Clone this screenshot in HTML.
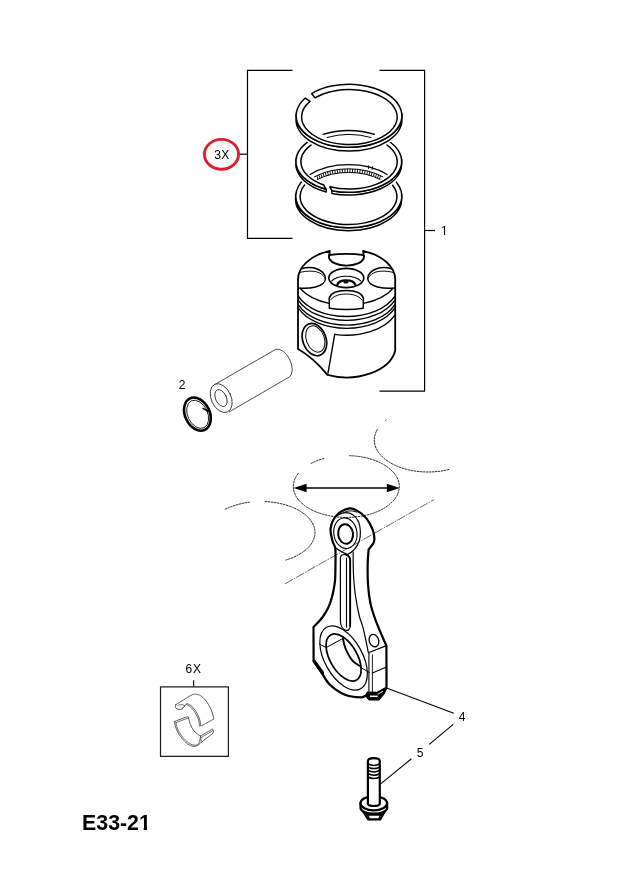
<!DOCTYPE html>
<html><head><meta charset="utf-8"><title>E33-21</title>
<style>
html,body{margin:0;padding:0;background:#fff;}
body{width:632px;height:889px;overflow:hidden;font-family:"Liberation Sans",sans-serif;}
svg{display:block;will-change:transform;transform:translateZ(0);}
text{font-family:"Liberation Sans",sans-serif;fill:#000;}
</style></head><body>
<svg width="632" height="889" viewBox="0 0 632 889" stroke-linecap="round" stroke-linejoin="round">
<rect width="632" height="889" fill="#fff"/>
<g id="brackets">
<path d="M292.5 70.4 H247.5 V238.4 H292.5" fill="none" stroke="#000" stroke-width="1.2" stroke-linecap="butt" stroke-linejoin="miter"/>
<path d="M379.5 70.4 H424.6 V391.2 H379.5" fill="none" stroke="#000" stroke-width="1.2" stroke-linecap="butt" stroke-linejoin="miter"/>
<path d="M240 154.2 H247.5" fill="none" stroke="#000" stroke-width="1.2" stroke-linecap="butt"/>
<path d="M424.6 230.5 H435" fill="none" stroke="#000" stroke-width="1.2" stroke-linecap="butt"/>
</g>
<ellipse cx="221.5" cy="154.3" rx="17.1" ry="14.9" fill="none" stroke="#de1f2b" stroke-width="2.9"/>
<text x="221.9" y="159.1" font-size="12" text-anchor="middle" letter-spacing="0.3">3X</text>
<text x="444.3" y="235.2" font-size="12" text-anchor="middle">1</text>
<text x="182.2" y="388.8" font-size="12" text-anchor="middle">2</text>
<text x="193.6" y="673.0" font-size="12" text-anchor="middle" letter-spacing="0.7">6X</text>
<text x="462.2" y="720.9" font-size="12" text-anchor="middle">4</text>
<text x="420" y="756.8" font-size="12" text-anchor="middle">5</text>
<text x="82.1" y="829.7" font-size="21.3" font-weight="bold">E33-21</text>
<path d="M440.4 233.7 H443.95 V235.6 H440.4 Z M445.15 233.7 H448 V235.6 H445.15 Z" fill="#fff" stroke="none"/>
<path d="M139.2 826.6 H143.7 V830.6 H139.2 Z M147.05 826.6 H151.5 V830.6 H147.05 Z" fill="#fff" stroke="none"/>
<g id="ring3">
<path d="M401.47 194.00 A53.00 31.60 0.0 1 1 295.73 194.00 L295.73 196.90 L295.73 196.90 A53.00 31.60 0.0 1 0 401.47 196.90 Z" fill="#fff" stroke="#000" stroke-width="1.5" />
<path d="M331.34 166.32 A53.00 31.60 0.0 1 1 329.61 166.70 L331.35 170.55 A48.40 27.90 0.0 1 0 332.94 170.22 Z" fill="#fff" stroke="#000" stroke-width="1.5" />
</g>
<path d="M401.70 161.40 A52.90 30.90 0.0 0 1 295.90 161.40 L295.90 161.40 A52.90 30.90 0.0 0 1 401.70 161.40 Z M401.70 164.10 A52.90 30.90 0.0 0 1 295.90 164.10 L295.90 164.10 A52.90 30.90 0.0 0 1 401.70 164.10 Z " fill="#fff" stroke="#fff" stroke-width="5"/>
<g id="ring3inner">
<path d="M310.09 174.49 A53.00 31.60 0.0 0 1 387.11 174.49" fill="none" stroke="#000" stroke-width="1.3" />
<path d="M314.48 176.87 A48.40 27.90 0.0 0 1 382.92 176.87" fill="none" stroke="#000" stroke-width="1.0" />
<path d="M317.32 179.47 A46.90 27.90 0.0 0 1 380.08 179.47" fill="none" stroke="#000" stroke-width="1.0" />
<path d="M316.95 176.14 L317.93 178.84 M318.93 175.20 L319.85 177.90 M320.99 174.32 L321.85 177.02 M323.13 173.51 L323.92 176.21 M325.34 172.76 L326.07 175.46 M327.62 172.08 L328.28 174.78 M329.96 171.48 L330.54 174.18 M332.35 170.94 L332.86 173.64 M334.79 170.48 L335.22 173.18 M337.26 170.09 L337.62 172.79 M339.77 169.78 L340.05 172.48 M342.30 169.54 L342.50 172.24 M344.86 169.39 L344.97 172.09 M347.42 169.31 L347.46 172.01 M349.98 169.31 L349.94 172.01 M352.54 169.39 L352.43 172.09 M355.10 169.54 L354.90 172.24 M357.63 169.78 L357.35 172.48 M360.14 170.09 L359.78 172.79 M362.61 170.48 L362.18 173.18 M365.05 170.94 L364.54 173.64 M367.44 171.48 L366.86 174.18 M369.78 172.08 L369.12 174.78 M372.06 172.76 L371.33 175.46 M374.27 173.51 L373.48 176.21 M376.41 174.32 L375.55 177.02 M378.47 175.20 L377.55 177.90 M380.45 176.14 L379.47 178.84 M368.3 165.6 L368.6 168.6 M372.6 166.6 L372.2 169.4" fill="none" stroke="#000" stroke-width="0.9" />
</g>
<g id="ring2">
<path d="M401.57 159.24 A52.90 30.90 0.0 0 1 331.93 190.69 L331.93 193.39 L331.93 193.39 A52.90 30.90 0.0 0 0 401.57 161.94 Z" fill="#fff" stroke="#000" stroke-width="1.5" />
<path d="M326.19 189.34 A52.90 30.90 0.0 0 1 296.03 159.24 L296.03 161.94 L296.03 161.94 A52.90 30.90 0.0 0 0 326.19 192.04 Z" fill="#fff" stroke="#000" stroke-width="1.5" />
<path d="M326.19 189.34 A52.90 30.90 0.0 1 1 331.93 190.69 L329.78 186.84 A48.20 27.30 0.0 1 0 323.60 185.00 Z" fill="#fff" stroke="#000" stroke-width="1.5" />
</g>
<path d="M401.90 115.80 A52.90 31.50 0.0 0 1 296.10 115.80 L296.10 115.80 A52.90 31.50 0.0 0 1 401.90 115.80 Z M401.90 119.60 A52.90 31.50 0.0 0 1 296.10 119.60 L296.10 119.60 A52.90 31.50 0.0 0 1 401.90 119.60 Z " fill="#fff" stroke="#fff" stroke-width="5"/>
<g id="ring2top">
<path d="M323.15 134.37 A52.90 30.90 0.0 0 1 374.45 134.37" fill="none" stroke="#000" stroke-width="1.3" />
<path d="M327.12 137.48 A48.20 27.30 0.0 0 1 370.88 137.48" fill="none" stroke="#000" stroke-width="1.0" />
</g>
<g id="ring1">
<path d="M401.77 113.60 A52.90 31.50 0.0 1 1 296.23 113.60 L296.23 117.40 L296.23 117.40 A52.90 31.50 0.0 1 0 401.77 117.40 Z" fill="#fff" stroke="#000" stroke-width="1.5" />
<path d="M311.59 93.53 A52.90 31.50 0.0 1 1 305.30 98.05 L310.01 101.42 A47.80 27.50 0.0 1 0 315.02 97.90 Z" fill="#fff" stroke="#000" stroke-width="1.5" />
</g>
<g id="piston">
<path d="M298 349 L298 279.5 A48.6 30.5 0 0 1 329.8 250.88 L329.3 255.0 A90 60 0 0 1 363.6 255.0 L363.1 250.81 A48.6 30.5 0 0 1 395.2 279.5 L395.2 351 L395.20 350.77 A49.30 32.00 0.0 0 1 327.50 374.90 C321 367 312 357 298 349 Z" fill="#fff" stroke="#000" stroke-width="1.8" />
<path d="M300.30 288.48 A52.00 30.50 0.0 0 0 329.20 303.34 M363.40 303.46 A52.00 30.50 0.0 0 0 392.90 288.48" fill="none" stroke="#000" stroke-width="1.3" />
<path d="M298.60 296.62 A52.00 32.30 0.0 0 0 394.60 296.62" fill="none" stroke="#000" stroke-width="1.5" />
<path d="M298.60 300.52 A52.00 32.30 0.0 0 0 394.60 300.52" fill="none" stroke="#000" stroke-width="1.3" />
<path d="M298.60 305.22 A52.00 32.30 0.0 0 0 394.60 305.22" fill="none" stroke="#000" stroke-width="1.4" />
<path d="M298.60 308.42 A52.00 32.30 0.0 0 0 394.60 308.42" fill="none" stroke="#000" stroke-width="1.3" />
<path d="M328 373.2 L334.7 334.3" fill="none" stroke="#000" stroke-width="1.4" />
<path d="M334.70 334.35 A52.00 32.20 0.0 0 0 394.60 315.38" fill="none" stroke="#000" stroke-width="1.4" />
<path d="M329.3 255.0 C328 258 330.5 261.5 335 263.4 C338.5 265 342 265.6 346.4 265.6 C351 265.6 354.5 265 358 263.4 C362.5 261.5 365 258 363.6 255.0" fill="none" stroke="#000" stroke-width="1.9" />
<path d="M301.40 268.8 C306.00 267.4 312.00 267.0 316.60 268.8 C322.40 271.0 325.50 275 325.50 278.6 C325.50 282.2 321.40 285.6 315.60 287.0 C310.00 288.4 304.00 288.6 298.40 288.1" fill="none" stroke="#000" stroke-width="1.5" />
<path d="M299.80 272.4 C308.00 270.6 315.00 270.6 319.60 273.0 C322.40 274.4 324.30 276.5 325.20 278.6" fill="none" stroke="#000" stroke-width="1.0" />
<path d="M391.80 268.8 C387.20 267.4 381.20 267.0 376.60 268.8 C370.80 271.0 367.70 275 367.70 278.6 C367.70 282.2 371.80 285.6 377.60 287.0 C383.20 288.4 389.20 288.6 394.80 288.1" fill="none" stroke="#000" stroke-width="1.5" />
<path d="M393.40 272.4 C385.20 270.6 378.20 270.6 373.60 273.0 C370.80 274.4 368.90 276.5 368.00 278.6" fill="none" stroke="#000" stroke-width="1.0" />
<ellipse cx="346.3" cy="278.0" rx="17.5" ry="9.6" fill="none" stroke="#000" stroke-width="1.6"/>
<path d="M331.6 281.2 C335 277.6 341 276.3 346.0 276.3 C351.5 276.3 357.5 277.6 361.0 281.2" fill="none" stroke="#000" stroke-width="1.1" />
<path d="M337.3 284.9 C338.2 281.6 342 280.3 346.0 280.3 C350.2 280.3 354.4 281.6 355.4 284.9" fill="none" stroke="#000" stroke-width="2.2" />
<ellipse cx="345.9" cy="281.9" rx="2.6" ry="1.5" fill="#000" stroke="none"/>
<path d="M329.4 308.3 L329.2 298 C331 292.5 338 290.5 346.3 290.5 C354.6 290.5 361.5 292.5 363.4 298 L363.2 308.3 C352 310 341 310 329.4 308.3 Z" fill="#fff" stroke="#000" stroke-width="1.5" />
<path d="M330.5 300 C334 295.5 340 294 346.3 294 C352.6 294 358.5 295.5 362 300" fill="none" stroke="#000" stroke-width="1.0" />
<ellipse cx="314.4" cy="339.6" rx="11.6" ry="16.6" transform="rotate(-20 314.4 339.6)" fill="#fff" stroke="#000" stroke-width="1.7"/>
<ellipse cx="315.3" cy="339.0" rx="9.0" ry="13.6" transform="rotate(-20 315.3 339.0)" fill="#fff" stroke="#000" stroke-width="1.0"/>
</g>
<g id="pin">
<path d="M215.2 384.3 L275.8 349.3 A9.0 15.5 -26 0 1 289.3 377.0 L229.4 411.8" fill="#fff" stroke="#222" stroke-width="0.8" />
<ellipse cx="221.2" cy="398.1" rx="9.9" ry="15.2" transform="rotate(-25 221.2 398.1)" fill="#fff" stroke="#222" stroke-width="0.8"/>
<ellipse cx="221.0" cy="398.1" rx="5.4" ry="9.0" transform="rotate(-25 221.0 398.1)" fill="#fff" stroke="#222" stroke-width="0.8"/>
</g>
<g id="clip">
<ellipse cx="197.4" cy="414.1" rx="12.3" ry="17.4" transform="rotate(-25 197.4 414.1)" fill="none" stroke="#000" stroke-width="2.6"/>
<ellipse cx="197.7" cy="414.3" rx="10.0" ry="14.8" transform="rotate(-25 197.7 414.3)" fill="none" stroke="#000" stroke-width="0.8"/>
<path d="M203.0 408.4 L208 411.2" fill="none" stroke="#000" stroke-width="1.6" />
</g>
<g id="arrow">
<path d="M300 488 H394" fill="none" stroke="#000" stroke-width="1.5" stroke-linecap="butt"/>
<path d="M293.6 488 L306.6 483.7 L306.6 492.3 Z" fill="#000"/>
<path d="M399.8 488 L386.8 483.7 L386.8 492.3 Z" fill="#000"/>
</g>
<g id="rod">
<path d="M335.50 563.70 C335.47 561.17 335.78 552.23 335.30 548.50 C334.82 544.77 333.38 544.63 332.60 541.30 C331.82 537.97 330.03 532.73 330.60 528.50 C331.17 524.27 333.03 519.22 336.00 515.90 C338.97 512.58 344.82 509.43 348.40 508.60 C351.98 507.77 354.47 509.23 357.50 510.90 C360.53 512.57 364.05 515.42 366.60 518.60 C369.15 521.78 371.50 526.68 372.80 530.00 C374.10 533.32 374.30 536.30 374.40 538.50 C374.50 540.70 374.37 541.37 373.40 543.20 C372.43 545.03 369.40 548.45 368.60 549.50 L368.60 549.50 C368.45 551.87 367.80 557.90 367.70 563.70 C367.60 569.50 367.55 577.70 368.00 584.30 C368.45 590.90 369.20 597.50 370.40 603.30 C371.60 609.10 373.22 613.57 375.20 619.10 C377.18 624.63 380.43 632.08 382.30 636.50 C384.17 640.92 385.72 644.08 386.40 645.60 L386.40 645.60 C386.42 652.63 386.48 680.77 386.50 687.80 L386.50 687.80 C385.98 688.82 383.92 692.88 383.40 693.90 L383.40 693.90 C382.63 694.82 379.57 698.48 378.80 699.40 L378.80 699.40 C377.20 699.40 370.80 699.40 369.20 699.40 L369.20 699.40 C368.65 698.73 366.45 696.07 365.90 695.40 L365.90 695.40 C365.08 695.72 364.50 697.42 361.00 697.30 C357.50 697.18 350.20 696.92 344.90 694.70 C339.60 692.48 333.42 688.28 329.20 684.00 C324.98 679.72 322.20 672.92 319.60 669.00 C317.00 665.08 314.60 661.92 313.60 660.50 L313.60 660.50 C313.58 654.92 313.52 632.58 313.50 627.00 L313.50 627.00 C314.25 626.27 316.42 624.35 318.00 622.60 C319.58 620.85 321.40 618.77 323.00 616.50 C324.60 614.23 326.27 611.67 327.60 609.00 C328.93 606.33 330.00 603.67 331.00 600.50 C332.00 597.33 332.92 593.48 333.60 590.00 C334.28 586.52 334.78 583.98 335.10 579.60 C335.42 575.22 335.43 566.35 335.50 563.70 Z" fill="#fff" stroke="#000" stroke-width="2.2" />
<path d="M336.00 515.90 C337.25 515.38 340.75 513.05 343.50 512.80 C346.25 512.55 349.95 512.78 352.50 514.40 C355.05 516.02 357.48 519.57 358.80 522.50 C360.12 525.43 360.33 528.92 360.40 532.00 C360.47 535.08 360.23 538.07 359.20 541.00 C358.17 543.93 356.15 547.33 354.20 549.60 C352.25 551.87 348.62 553.77 347.50 554.60" fill="none" stroke="#000" stroke-width="1.2" />
<path d="M347.5 554.6 C343 552.5 338.5 550.5 335.4 547.8" fill="none" stroke="#000" stroke-width="1.2" />
<ellipse cx="345.4" cy="533.2" rx="11.6" ry="15.4" transform="rotate(-8 345.4 533.2)" fill="none" stroke="#000" stroke-width="1.1"/>
<ellipse cx="345.6" cy="534.0" rx="7.4" ry="9.8" transform="rotate(-8 345.6 534.0)" fill="#fff" stroke="#000" stroke-width="2.0"/>
<path d="M343.5 512.8 C347 510.5 352 510.2 357 512.2" fill="none" stroke="#000" stroke-width="1.0" />
<path d="M340.4 558 C340.4 555 343 554.2 345.6 554.6 C348.6 555.2 350.2 557.5 350.2 561 L350.2 626 C350.2 629.5 347.8 631.0 345.6 630.2 C342.5 629.0 340.4 625 340.4 621 Z" fill="none" stroke="#000" stroke-width="1.2" />
<path d="M346.5 555 C348.8 555.6 350.2 557.8 350.2 561 L350.2 626" fill="none" stroke="#000" stroke-width="1.8" />
<path d="M346.5 558 L346.5 627" fill="none" stroke="#000" stroke-width="1.1" />
<path d="M353.20 552.00 C353.20 554.17 353.10 560.40 353.20 565.00 C353.30 569.60 353.43 574.53 353.80 579.60 C354.17 584.67 354.48 589.33 355.40 595.40 C356.32 601.47 357.98 610.47 359.30 616.00 C360.62 621.53 361.78 622.48 363.30 628.60 C364.82 634.72 367.55 648.68 368.40 652.70" fill="none" stroke="#000" stroke-width="1.2" />
<path d="M368.4 652.7 L386.4 645.6" fill="none" stroke="#000" stroke-width="1.2" />
<path d="M368.9 653.2 L368.9 692.0" fill="none" stroke="#444" stroke-width="1.5" />
<path d="M372.4 655 L372.4 692.0" fill="none" stroke="#000" stroke-width="0.9" />
<path d="M372.4 673.0 L386.5 667.0" fill="none" stroke="#000" stroke-width="1.2" />
<ellipse cx="374.0" cy="640.6" rx="4.7" ry="6.3" transform="rotate(-20 374 640.6)" fill="#fff" stroke="#000" stroke-width="1.3"/>
<ellipse cx="343.6" cy="658.0" rx="18.9" ry="35.2" transform="rotate(-29 343.6 658)" fill="none" stroke="#000" stroke-width="1.2"/>
<ellipse cx="343.6" cy="657.5" rx="13.6" ry="26.0" transform="rotate(-30 343.6 657.5)" fill="#fff" stroke="#000" stroke-width="1.7"/>
<path d="M342.90 638.20 C343.12 639.25 343.62 642.43 344.20 644.50 C344.78 646.57 345.17 648.08 346.40 650.60 C347.63 653.12 350.00 657.43 351.60 659.60 C353.20 661.77 354.57 662.50 356.00 663.60 C357.43 664.70 359.50 665.77 360.20 666.20" fill="none" stroke="#000" stroke-width="1.9" />
<path d="M319.4 644.0 L326.2 647.6 L342.9 638.4" fill="none" stroke="#000" stroke-width="1.0" />
<path d="M360.2 667.2 L369 672.2" fill="none" stroke="#000" stroke-width="1.0" />
<path d="M367.2 692.2 L377.2 692.4 L386.3 687.4 L383.4 693.9 L378.8 699.4 L369.2 699.4 L365.9 695.4 Z" fill="#000" stroke="#000" stroke-width="1.2"/>
<path d="M370.0 696.3 L377.6 696.3" stroke="#fff" stroke-width="1.5" stroke-linecap="butt" fill="none"/>
<path d="M377.6 694.4 L383.0 691.2" stroke="#fff" stroke-width="0.9" stroke-linecap="butt" fill="none"/>
<path d="M314.2 661.2 L322.5 673.0" fill="none" stroke="#000" stroke-width="3.4" />
</g>
<g id="bores" fill="none" stroke="#000" stroke-width="0.85" stroke-linecap="butt">
<path d="M349.26 455.65 A53.00 30.90 0.0 1 1 298.83 472.76 M310.70 463.61 A53.00 30.90 0.0 0 1 324.49 458.34 " stroke-dasharray="2.4 0.6"/>
<path d="M264.77 501.58 A54.00 31.00 0.0 0 1 285.52 560.12 M224.87 509.46 A54.00 31.00 0.0 0 1 249.77 502.18 " stroke-dasharray="2.4 0.6"/>
<path d="M448.98 469.46 A53.70 32.00 0.0 0 1 377.54 429.06 M385.11 420.74 A53.70 32.00 0.0 0 1 386.27 419.86 " stroke-dasharray="2.4 0.6"/>
<path d="M285 583.8 L434 499.6" stroke="#222" stroke-width="0.7" stroke-dasharray="9 1.2 1.5 1.2"/>
</g>
<g id="leaders">
<path d="M387.2 688.2 L453.8 713.3" fill="none" stroke="#000" stroke-width="1.1" stroke-linecap="butt"/>
<path d="M453.2 724.4 L429.3 744.3" fill="none" stroke="#000" stroke-width="1.1" stroke-linecap="butt"/>
<path d="M411.4 758.8 L381.0 783.6" fill="none" stroke="#000" stroke-width="1.1" stroke-linecap="butt"/>
</g>
<g id="box6x">
<path d="M193.7 680.3 V686.6" fill="none" stroke="#000" stroke-width="1.1" stroke-linecap="butt"/>
<rect x="160.5" y="686.9" width="67.9" height="69.5" fill="none" stroke="#1a1a1a" stroke-width="1.2"/>
<path d="M175.89 704.62 C177.15 703.84 180.84 701.54 183.48 699.94 C186.12 698.33 189.49 695.95 191.71 695.00 C193.92 694.05 195.08 693.99 196.77 694.24 C198.46 694.49 200.15 695.21 201.84 696.52 C203.52 697.83 205.32 699.83 206.90 702.09 C208.48 704.35 210.15 707.26 211.33 710.06 C212.51 712.87 213.54 717.45 213.99 718.92 L213.99 718.92 C211.79 720.13 203.02 724.94 200.82 726.14 L200.82 726.14 C200.57 724.83 200.19 720.86 199.30 718.29 C198.42 715.72 196.88 712.81 195.51 710.70 C194.14 708.59 192.55 706.84 191.08 705.63 C189.60 704.43 187.38 703.84 186.65 703.48 L186.65 703.48 C185.86 704.37 183.23 707.81 181.96 708.80 C180.70 709.79 180.13 709.64 179.05 709.43 C177.97 709.22 176.03 708.33 175.51 707.53 C174.98 706.73 175.82 705.11 175.89 704.62 Z" fill="#fff" stroke="#333" stroke-width="0.8" />
<path d="M177.78 705.63 C178.31 705.46 179.79 704.58 180.95 704.62 C182.11 704.66 184.58 705.19 184.75 705.89 C184.92 706.58 182.43 708.31 181.96 708.80" fill="none" stroke="#333" stroke-width="0.7" />
<path d="M199.56 726.14 C199.35 724.94 199.14 721.35 198.29 718.92 C197.45 716.50 195.80 713.59 194.49 711.58 C193.19 709.58 191.75 708.06 190.44 706.90 C189.14 705.74 187.28 705.00 186.65 704.62" fill="none" stroke="#333" stroke-width="0.7" />
<path d="M174.62 721.46 C176.62 720.72 184.32 717.64 186.65 717.03 C188.97 716.41 188.23 717.66 188.54 717.78 L188.54 717.78 C188.86 718.92 189.60 722.53 190.44 724.62 C191.29 726.71 192.45 728.73 193.61 730.32 C194.77 731.90 196.24 733.16 197.41 734.11 C198.57 735.06 200.04 735.70 200.57 736.01 L200.57 736.01 C202.57 734.85 210.59 730.21 212.59 729.05 L212.59 729.05 C212.74 729.37 213.42 730.25 213.48 730.95 C213.54 731.65 213.06 732.85 212.97 733.23 L212.97 733.23 C211.01 734.75 203.16 740.82 201.20 742.34 L201.20 742.34 C200.68 742.81 199.20 744.45 198.04 745.13 C196.88 745.80 195.72 746.43 194.24 746.39 C192.76 746.35 190.97 745.93 189.18 744.87 C187.38 743.82 185.38 742.17 183.48 740.06 C181.58 737.95 179.20 734.79 177.78 732.22 C176.37 729.64 175.53 726.41 175.00 724.62 C174.47 722.83 174.68 721.98 174.62 721.46 Z" fill="#fff" stroke="#333" stroke-width="0.8" />
<path d="M175.89 722.72 C176.31 724.09 177.05 728.27 178.42 730.95 C179.79 733.63 182.22 736.69 184.11 738.80 C186.01 740.91 188.12 742.55 189.81 743.61 C191.50 744.66 192.76 745.13 194.24 745.13 C195.72 745.13 197.62 745.13 198.67 743.61 C199.73 742.09 200.25 737.28 200.57 736.01" fill="none" stroke="#333" stroke-width="0.7" />
<path d="M200.57 736.01 L201.20 742.34" fill="none" stroke="#333" stroke-width="0.7" />
<path d="M201.20 737.53 L212.72 730.70" fill="none" stroke="#333" stroke-width="0.7" />
<path d="M175.89 722.72 L186.65 718.54 L188.54 717.78" fill="none" stroke="#333" stroke-width="0.7" />
</g>
<g id="bolt">
<path d="M362.47 810.25 L368.16 819.37 L380.19 819.37 L385.51 810.25 Z" fill="#fff" stroke="#000" stroke-width="2.2" stroke-linejoin="round"/>
<path d="M363.54 811.84 Q373.80 815.32 384.24 811.84" fill="none" stroke="#000" stroke-width="2.4" />
<path d="M366.71 814.81 L381.58 814.81" fill="none" stroke="#000" stroke-width="2.0" />
<path d="M367.66 815.32 L369.24 818.16 M380.32 815.32 L379.05 818.16" fill="none" stroke="#000" stroke-width="1.2" />
<path d="M360.51 803.29 L360.51 808.04 A13.3 5.6 0 0 0 387.15 808.04 L387.15 803.29 Z" fill="#fff" stroke="#000" stroke-width="2.2" />
<ellipse cx="373.80" cy="803.29" rx="13.3" ry="7.0" fill="#fff" stroke="#000" stroke-width="2.2"/>
<path d="M367.89 803.99 L367.89 760.97 C368.14 757.17 379.53 757.17 379.78 760.97 L379.78 803.99 C378.26 806.69 369.40 806.69 367.89 803.99 Z" fill="#fff" stroke="#000" stroke-width="2.2" />
<path d="M368.73 764.17 C371.09 765.86 376.58 765.86 379.11 764.17 M368.73 767.38 C371.09 769.07 376.58 769.07 379.11 767.38 M368.73 770.67 C371.09 772.36 376.58 772.36 379.11 770.67 M368.73 773.96 C371.09 775.65 376.58 775.65 379.11 773.96 M368.73 777.25 C371.09 778.94 376.58 778.94 379.11 777.25" fill="none" stroke="#000" stroke-width="1.6" />
</g>
</svg>
</body></html>
